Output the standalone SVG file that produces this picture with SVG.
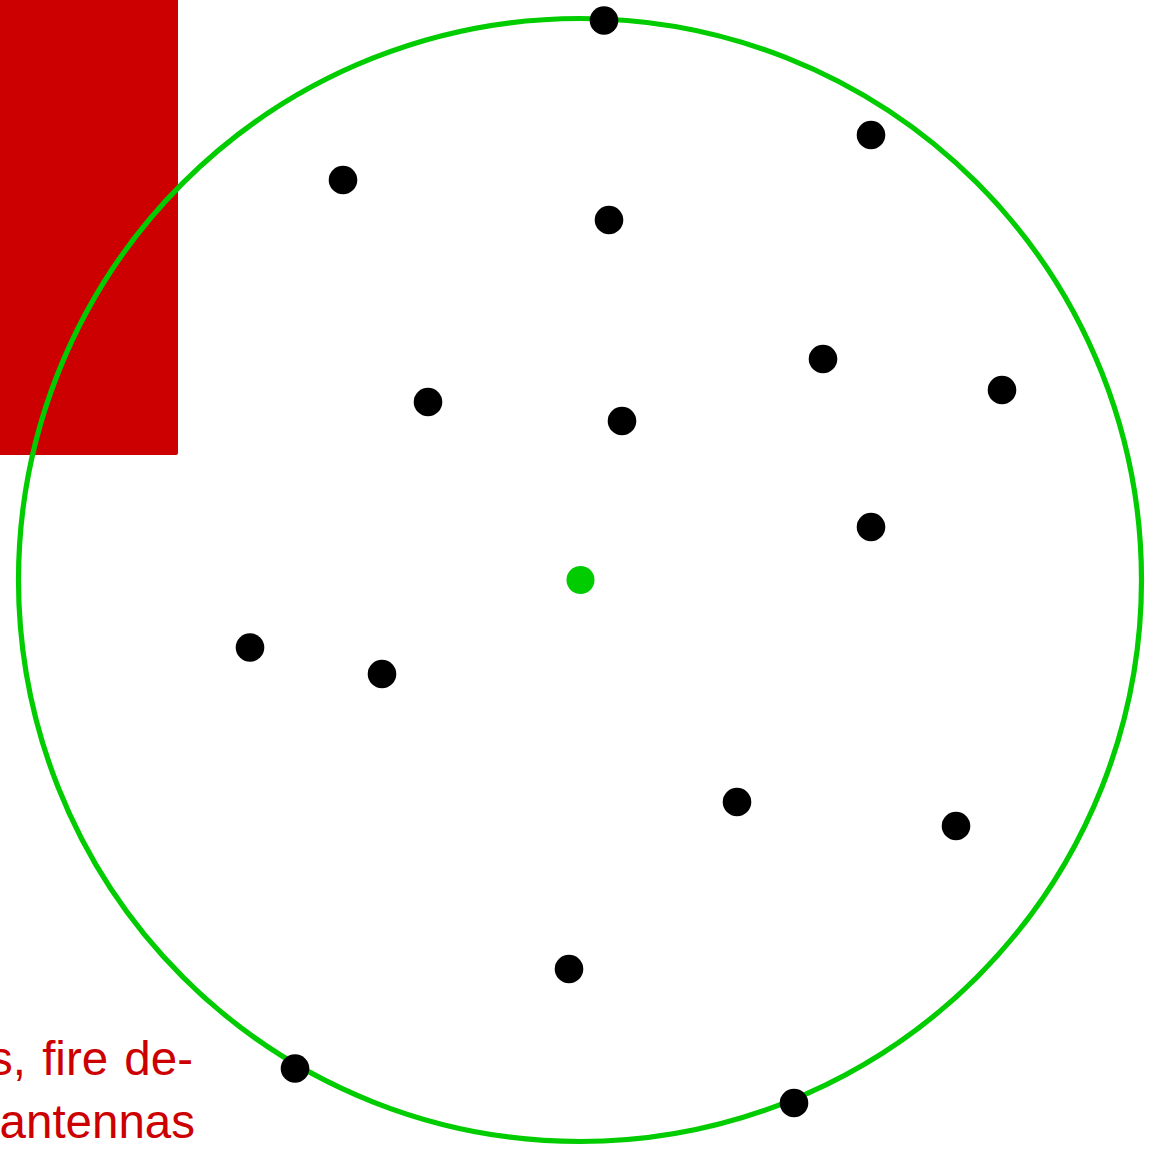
<svg xmlns="http://www.w3.org/2000/svg" width="1162" height="1151" viewBox="0 0 1162 1151">
<style>
.dot{fill:#000000}
.lbl{fill:#CC0000;font-family:"Liberation Sans","DejaVu Sans",sans-serif;font-size:47.5px;text-anchor:end}
</style>
<rect width="1162" height="1151" fill="#ffffff"/>
<g id="red-block"><rect x="-10" y="-10" width="188" height="465" rx="2" fill="#CC0000"/></g>
<g id="label">
<text class="lbl" x="193" y="1075" word-spacing="3">s, fire de-</text>
<text class="lbl" x="195" y="1138">antennas</text>
</g>
<g id="range-circle"><circle cx="580" cy="580" r="561.5" fill="none" stroke="#00CC00" stroke-width="5.2"/></g>
<g id="center"><circle cx="580.5" cy="580" r="14" fill="#00CC00"/></g>
<g id="nodes">
<circle id="n1" class="dot" cx="604" cy="20.5" r="14.3"/>
<circle id="n2" class="dot" cx="871" cy="135" r="14.3"/>
<circle id="n3" class="dot" cx="343" cy="180" r="14.3"/>
<circle id="n4" class="dot" cx="609" cy="220" r="14.3"/>
<circle id="n5" class="dot" cx="823" cy="359" r="14.3"/>
<circle id="n6" class="dot" cx="1002" cy="390" r="14.3"/>
<circle id="n7" class="dot" cx="428" cy="402" r="14.3"/>
<circle id="n8" class="dot" cx="622" cy="421" r="14.3"/>
<circle id="n9" class="dot" cx="871" cy="527" r="14.3"/>
<circle id="n10" class="dot" cx="250" cy="647.5" r="14.3"/>
<circle id="n11" class="dot" cx="382" cy="674" r="14.3"/>
<circle id="n12" class="dot" cx="737" cy="802" r="14.3"/>
<circle id="n13" class="dot" cx="956" cy="826" r="14.3"/>
<circle id="n14" class="dot" cx="569" cy="969" r="14.3"/>
<circle id="n15" class="dot" cx="295" cy="1068.5" r="14.3"/>
<circle id="n16" class="dot" cx="794" cy="1103" r="14.3"/>
</g>
<g id="connectors"/>
</svg>
